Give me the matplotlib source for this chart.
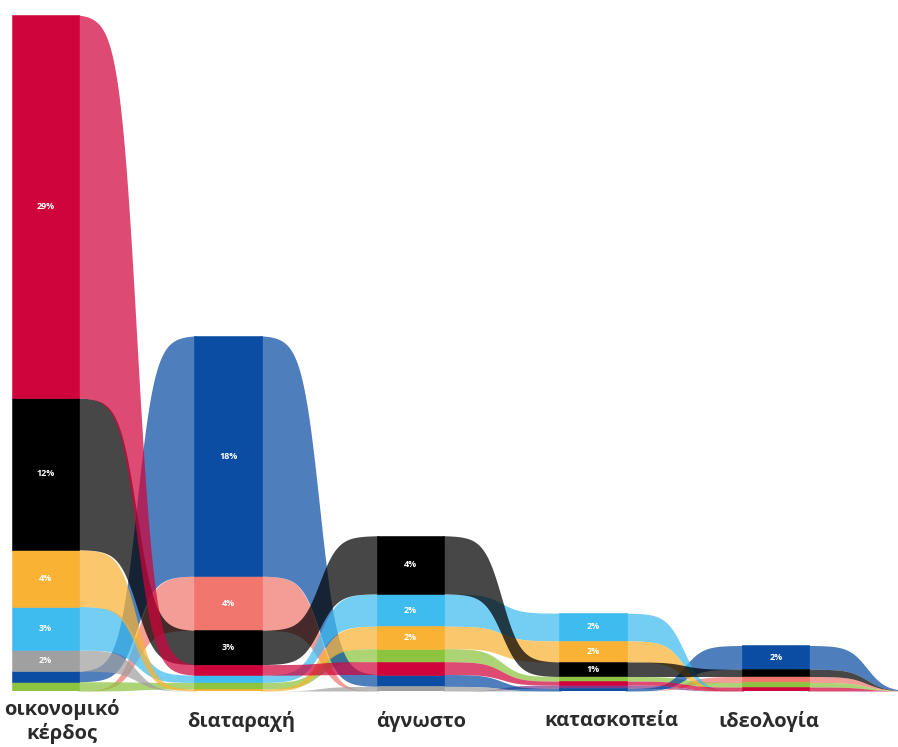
import matplotlib.pyplot as plt
import numpy as np

plt.rcParams['font.family'] = ['Open Sans', 'DejaVu Sans']

categories = ['οικονομικό\nκέρδος', 'διαταραχή', 'άγνωστο', 'κατασκοπεία', 'ιδεολογία']

# share (%) of each series per category
red = [29.0, 0.8, 0.97, 0.3, 0.3]
black = [11.5, 2.6, 4.4, 1.1, 0.55]
yellow = [4.3, 0.15, 1.7, 1.6, 0.0]
light_blue = [3.3, 0.55, 2.45, 2.1, 0.0]
gray = [1.6, 0.0, 0.35, 0.0, 0.0]
dark_blue = [0.8, 18.2, 0.9, 0.2, 1.8]
green = [0.7, 0.5, 0.99, 0.35, 0.35]
salmon = [0.0, 4.1, 0.0, 0.0, 0.45]
purple = [0.0, 0.0, 0.0, 0.25, 0.0]

series = [purple, salmon, green, dark_blue, gray, light_blue, yellow, black, red]
colors = ['#7E3A8E', '#F0766E', '#8CC43F', '#0A4DA2', '#A0A0A0', '#3EBBEF',
          '#F9B233', '#000000', '#D0043C']

vals = np.array(series)
n_ser, n_cat = vals.shape
# extra empty column past the right edge, so the ribbons trail off to zero
vals = np.hstack([vals, np.zeros((n_ser, 1))])

bottoms = np.zeros_like(vals)
for j in range(n_cat + 1):
    order = sorted(range(n_ser), key=lambda s: vals[s, j])
    acc = 0.0
    for s in order:
        bottoms[s, j] = acc
        acc += vals[s, j]
tops = bottoms + vals

bar_w = 0.37
k = 12.5


def sigmoid(t):
    f = 1 / (1 + np.exp(-k * (t - 0.5)))
    f0 = 1 / (1 + np.exp(k * 0.5))
    f1 = 1 / (1 + np.exp(-k * 0.5))
    return (f - f0) / (f1 - f0)


fig = plt.figure(figsize=(8.98, 7.47), dpi=100)
ax = fig.add_axes([0, 56 / 747, 1, 691 / 747])

t = np.linspace(0, 1, 150)
s_t = sigmoid(t)
for s in range(n_ser):
    for j in range(n_cat):
        if vals[s, j] == 0 and vals[s, j + 1] == 0:
            continue
        x0 = j + bar_w / 2
        x1 = j + 1 - bar_w / 2
        xs = x0 + (x1 - x0) * t
        lo = bottoms[s, j] + (bottoms[s, j + 1] - bottoms[s, j]) * s_t
        hi = tops[s, j] + (tops[s, j + 1] - tops[s, j]) * s_t
        # tuck the ends under the bars to hide the seam
        xs = np.concatenate([[x0 - 0.01], xs, [x1 + 0.01]])
        lo = np.concatenate([[lo[0]], lo, [lo[-1]]])
        hi = np.concatenate([[hi[0]], hi, [hi[-1]]])
        ax.fill_between(xs, lo, hi, color=colors[s], alpha=0.72, lw=0, zorder=1)

for s in range(n_ser):
    for j in range(n_cat):
        v = vals[s, j]
        if v <= 0:
            continue
        ax.bar(j, v, bottom=bottoms[s, j], width=bar_w, color=colors[s],
               edgecolor=colors[s], lw=0.4, zorder=2)
        if v >= 1:
            ax.text(j, bottoms[s, j] + v / 2, f'{v:.0f}%', color='white', fontsize=6.5,
                    fontweight='bold', ha='center', va='center', zorder=3)

label_dx = [0.09, 0.07, 0.06, 0.1, -0.04]
for j, cat in enumerate(categories):
    ax.text(j + label_dx[j], -2.3, cat, ha='center', va='center', fontsize=14.5,
            fontweight='bold', color='#2b2b2b', linespacing=1.15, clip_on=False)

ax.set_xlim(-0.25, 4.67)
ax.set_ylim(0, 691 / 13.2)
ax.axis('off')

fig.savefig('out.png', dpi=100)
